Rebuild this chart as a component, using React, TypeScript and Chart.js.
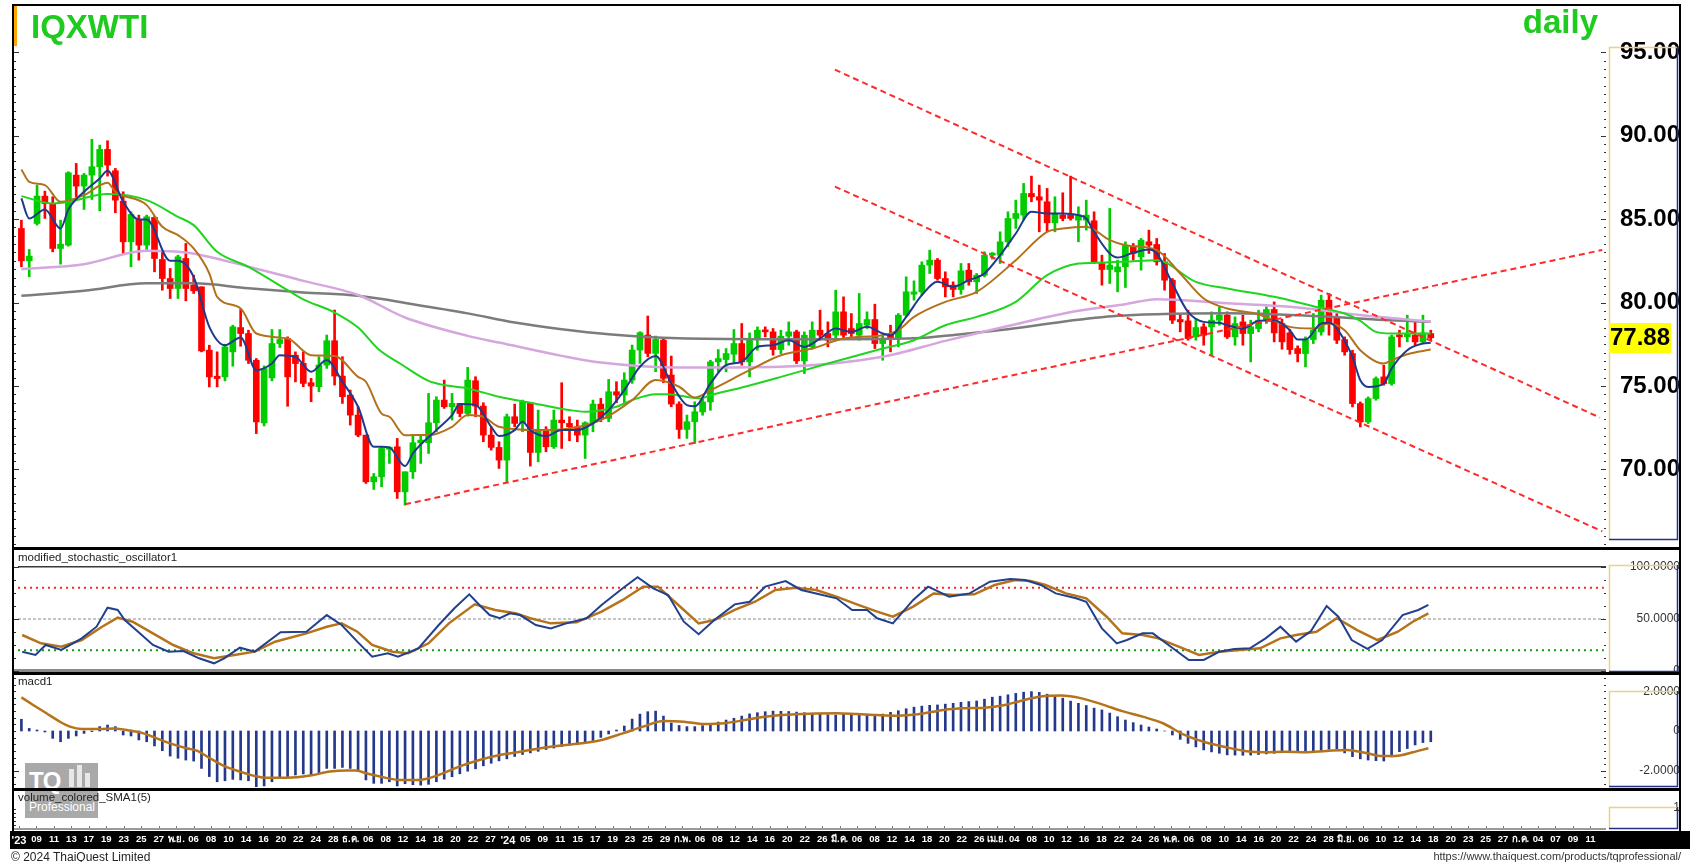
import React, { useEffect, useRef } from "react";
import { Chart, registerables } from "chart.js";

Chart.register(...registerables);

const FONT = '"Liberation Sans", Arial, Helvetica, sans-serif';

const PLOT_LEFT = 13;
const PLOT_RIGHT = 1606;
const AXIS_W = 74;
const RIGHT_PAD = 1690 - PLOT_RIGHT - AXIS_W;
const X_MIN = -1.073;
const X_MAX = 202.38;

// ---------- price candles (IQXWTI daily) ----------
const OPEN = [
  84.44, 82.5, 84.74, 86.38, 85.94, 83.24, 83.44, 87.64, 86.98, 87.64,
  88.14, 89.18, 87.9, 86.08, 83.64, 84.98, 83.44, 85.1, 82.58, 81.44,
  80.84, 82.64, 81.04, 80.94, 77.14, 75.58, 75.54, 77.04, 78.5, 78.14,
  76.54, 72.78, 75.48, 77.54, 77.84, 76.84, 76.35, 75.19, 74.95, 76.25,
  77.71, 75.59, 74.45, 73.25, 72.05, 69.25, 69.55, 71.2, 71.35, 68.65,
  69.85, 71.59, 71.59, 72.79, 74.15, 73.75, 73.95, 73.35, 75.31, 73.79,
  72.05, 71.31, 70.55, 73.15, 72.75, 73.99, 71.01, 72.35, 71.35, 72.95,
  72.75, 72.55, 72.05, 72.79, 73.91, 73.05, 74.65, 74.45, 75.35, 77.15,
  78.05, 76.95, 77.75, 75.65, 73.91, 72.39, 72.85, 73.44, 74.04, 76.44,
  76.58, 76.9, 77.54, 76.44, 77.84, 78.34, 78.24, 77.18, 77.98, 78.24,
  76.5, 77.34, 78.34, 78.14, 78.04, 79.44, 78.44, 78.04, 78.64, 78.98,
  77.54, 78.04, 77.84, 79.24, 80.5, 80.64, 82.24, 82.54, 81.44, 81.04,
  80.78, 81.94, 81.24, 81.64, 82.84, 82.84, 83.64, 85.04, 85.24, 86.54,
  86.34, 86.04, 84.78, 85.24, 85.24, 84.94, 84.94, 84.9, 82.34, 81.98,
  81.84, 82.14, 83.38, 82.74, 83.64, 83.48, 82.44, 81.34, 78.98, 78.9,
  77.94, 78.54, 78.54, 78.94, 79.24, 77.94, 78.84, 78.14, 78.44, 78.94,
  79.58, 78.74, 78.18, 77.24, 76.94, 77.78, 78.24, 80.14, 79.14, 77.78,
  76.94, 73.94, 72.84, 74.24, 75.54, 75.14, 78.04, 77.94, 78.04, 77.64,
  78.14,
];
const HIGH = [
  84.94, 83.18, 87.04, 86.68, 86.34, 84.94, 87.84, 88.34, 87.74, 89.78,
  89.44, 89.7, 88.04, 86.64, 85.44, 85.24, 85.24, 85.14, 83.04, 82.04,
  82.84, 83.54, 81.64, 80.94, 77.44, 77.04, 77.5, 78.64, 79.58, 78.34,
  76.64, 76.2, 78.38, 78.38, 77.94, 77.04, 77.05, 75.45, 76.75, 78.05,
  79.55, 76.75, 74.75, 73.75, 72.05, 69.75, 71.35, 71.35, 71.85, 69.85,
  72.05, 72.05, 74.55, 74.35, 75.35, 74.55, 73.95, 76.11, 75.55, 73.99,
  72.55, 71.65, 73.31, 73.91, 74.15, 73.99, 73.55, 72.55, 73.55, 75.19,
  73.15, 72.95, 72.85, 74.15, 74.25, 75.39, 75.25, 75.79, 77.45, 78.25,
  79.19, 77.99, 77.85, 76.79, 74.05, 73.25, 74.05, 74.24, 76.54, 77.18,
  77.24, 78.38, 78.74, 78.18, 78.54, 78.54, 78.44, 78.34, 78.84, 78.34,
  78.24, 78.84, 79.54, 78.84, 80.74, 80.34, 79.34, 80.54, 79.44, 79.9,
  78.04, 78.64, 79.34, 81.54, 81.3, 82.44, 83.14, 82.64, 81.84, 81.24,
  82.34, 82.34, 81.74, 83.04, 83.0, 84.24, 85.44, 86.14, 87.14, 87.58,
  87.04, 86.84, 86.34, 86.58, 87.58, 85.74, 86.14, 85.44, 82.84, 85.64,
  82.54, 83.64, 83.54, 83.84, 84.34, 83.84, 82.94, 81.44, 79.34, 79.54,
  79.04, 78.74, 79.44, 79.74, 79.44, 79.14, 79.24, 78.94, 79.54, 79.74,
  80.04, 79.0, 78.4, 77.4, 77.94, 79.34, 80.44, 80.54, 79.34, 77.94,
  77.14, 74.04, 74.34, 75.54, 76.24, 78.04, 78.34, 79.24, 78.84, 79.24,
  78.34,
];
const LOW = [
  82.14, 81.54, 84.64, 85.04, 83.04, 82.3, 83.38, 86.34, 85.58, 86.18,
  85.5, 87.58, 85.38, 82.94, 82.14, 82.54, 83.18, 81.84, 80.74, 80.24,
  80.24, 80.1, 80.54, 77.04, 74.94, 74.94, 75.3, 76.18, 77.38, 76.34,
  72.14, 72.6, 75.3, 77.3, 73.78, 75.24, 74.95, 74.05, 74.65, 76.05,
  75.05, 73.95, 72.65, 71.95, 69.15, 68.79, 68.95, 70.35, 68.25, 67.85,
  69.45, 70.35, 70.95, 72.25, 73.65, 72.95, 73.15, 73.19, 73.15, 71.65,
  71.15, 70.05, 69.25, 72.55, 72.25, 70.19, 70.45, 71.05, 71.25, 71.25,
  71.71, 71.65, 70.65, 72.25, 72.85, 72.85, 73.99, 73.95, 75.15, 76.35,
  76.75, 75.85, 75.19, 73.75, 71.85, 71.85, 71.55, 73.24, 73.54, 75.84,
  75.84, 76.34, 76.24, 75.54, 77.14, 77.94, 76.84, 76.94, 77.44, 76.34,
  75.74, 77.2, 77.74, 77.34, 77.84, 77.84, 77.84, 77.74, 78.44, 77.24,
  76.54, 77.04, 77.34, 79.14, 80.14, 80.44, 81.74, 81.34, 80.34, 80.34,
  80.5, 81.04, 80.54, 81.54, 82.6, 82.34, 83.34, 84.44, 84.94, 86.04,
  84.24, 84.24, 84.24, 84.9, 84.94, 83.64, 84.34, 82.34, 81.04, 81.14,
  80.64, 80.9, 82.54, 81.94, 82.94, 82.24, 80.74, 78.74, 78.24, 77.74,
  77.74, 77.44, 76.84, 78.64, 77.84, 77.44, 77.44, 76.44, 78.24, 78.74,
  77.64, 77.2, 76.9, 76.44, 76.14, 77.54, 78.04, 78.04, 77.54, 76.84,
  73.74, 72.54, 72.74, 74.14, 75.04, 75.04, 77.34, 77.64, 77.44, 77.58,
  77.74,
];
const CLOSE = [
  82.5, 82.78, 86.38, 85.94, 83.24, 83.5, 87.78, 86.98, 87.64, 88.14,
  89.18, 88.24, 86.14, 83.64, 85.28, 83.44, 85.14, 82.64, 81.44, 80.84,
  82.74, 80.84, 80.7, 77.1, 75.54, 75.44, 77.34, 78.54, 78.14, 76.54,
  72.84, 76.04, 77.54, 77.78, 75.54, 76.34, 75.15, 74.99, 76.25, 77.71,
  75.59, 74.35, 73.25, 72.05, 69.25, 69.55, 71.25, 71.3, 68.65, 69.85,
  71.59, 71.75, 72.79, 74.15, 73.75, 73.95, 73.35, 75.35, 73.79, 72.05,
  71.31, 70.55, 73.15, 72.75, 74.05, 71.01, 72.35, 71.35, 72.95, 72.79,
  72.55, 72.05, 72.79, 73.91, 73.05, 74.65, 74.45, 75.35, 77.15, 78.19,
  76.95, 77.79, 75.45, 73.91, 72.39, 72.85, 73.45, 74.04, 76.44, 76.64,
  76.94, 77.54, 76.44, 77.84, 78.34, 78.24, 77.18, 77.98, 78.24, 76.5,
  78.04, 78.34, 78.04, 77.74, 79.44, 78.04, 78.14, 78.74, 78.98, 77.54,
  77.84, 77.84, 79.24, 80.64, 80.64, 82.24, 82.54, 81.44, 80.94, 80.78,
  81.9, 81.24, 81.64, 82.84, 82.9, 83.64, 85.04, 85.34, 86.54, 86.34,
  86.14, 84.78, 85.34, 85.04, 85.04, 85.24, 85.24, 82.44, 81.98, 82.24,
  82.14, 83.44, 82.94, 83.74, 83.44, 82.44, 81.34, 78.94, 78.84, 77.84,
  78.5, 78.04, 78.94, 79.24, 77.94, 78.74, 78.14, 78.54, 78.94, 79.58,
  78.18, 77.64, 77.18, 76.94, 77.78, 78.34, 80.14, 78.74, 77.74, 77.04,
  73.94, 72.84, 74.24, 75.44, 75.14, 77.94, 77.94, 78.14, 77.64, 78.18,
  77.88,
];

// ---------- moving averages: [candle index, price] ----------
const MA_BLUE = [
  [0, 86.24], [1, 85.04], [3, 85.58], [5, 84.44], [6, 85.58], [8, 86.64], [10, 87.44], [11, 87.9],
  [13, 86.04], [15, 84.98], [16, 84.98], [19, 82.5], [20, 82.5], [22, 81.54], [24, 78.54], [26, 77.44],
  [28, 77.9], [30, 75.94], [32, 76.34], [33, 76.84], [35, 76.74], [37, 75.85], [39, 76.55], [41, 75.25],
  [43, 73.75], [45, 71.35], [46, 71.35], [47, 71.31], [49, 70.19], [50, 70.95], [53, 72.35], [55, 73.25],
  [56, 73.91], [58, 73.85], [60, 72.55], [61, 71.99], [63, 72.35], [64, 72.85], [65, 72.35], [67, 71.99],
  [69, 72.35], [71, 72.35], [73, 72.75], [75, 73.55], [77, 74.75], [79, 76.15], [81, 76.79], [83, 75.15],
  [85, 73.85], [86, 73.78], [88, 75.14], [90, 76.24], [92, 76.44], [94, 77.34], [96, 77.44], [98, 77.74],
  [100, 77.34], [102, 77.84], [104, 78.44], [106, 78.24], [108, 78.54], [110, 78.14], [111, 78.04],
  [113, 79.14], [115, 80.44], [117, 81.24], [119, 80.94], [121, 81.34], [123, 81.74], [125, 82.84],
  [127, 84.14], [129, 85.44], [131, 85.34], [133, 85.34], [135, 85.24], [136, 85.04], [137, 84.24],
  [139, 82.94], [140, 82.7], [142, 82.98], [144, 83.18], [145, 82.94], [147, 81.14], [149, 79.44],
  [151, 78.84], [153, 78.78], [154, 78.64], [156, 78.44], [158, 78.9], [160, 78.94], [162, 78.34],
  [163, 77.78], [164, 77.78], [166, 78.74], [167, 78.78], [168, 78.44], [170, 76.74], [171, 75.34],
  [172, 74.94], [174, 75.14], [175, 76.04], [177, 77.14], [179, 77.54], [180, 77.58],
];
const MA_BROWN = [
  [0, 87.98], [1, 87.24], [3, 87.04], [5, 86.04], [8, 86.44], [11, 87.18], [12, 86.64], [16, 85.84],
  [18, 84.54], [20, 84.04], [22, 83.24], [24, 81.74], [25, 80.34], [28, 79.64], [30, 78.14], [34, 77.84],
  [37, 76.84], [40, 76.8], [43, 75.54], [44, 75.25], [46, 73.34], [47, 73.15], [49, 72.04], [50, 72.05],
  [52, 72.05], [55, 72.55], [57, 73.25], [59, 73.15], [61, 72.55], [66, 72.35], [70, 72.45], [74, 72.95],
  [78, 74.15], [81, 75.35], [84, 74.95], [86, 74.3], [88, 74.74], [93, 75.94], [97, 76.84], [101, 77.24],
  [105, 77.84], [110, 78.04], [112, 78.34], [114, 79.14], [118, 80.04], [122, 80.64], [127, 82.54],
  [131, 84.24], [133, 84.44], [136, 84.54], [139, 83.74], [141, 83.44], [145, 83.14], [148, 81.74],
  [151, 80.24], [154, 79.64], [158, 79.3], [162, 78.54], [165, 78.44], [167, 78.74], [169, 78.34],
  [171, 77.14], [174, 76.34], [175, 76.54], [177, 76.9], [180, 77.18],
];
const MA_GREEN = [
  [0, 86.38], [4, 85.94], [6, 86.04], [11, 86.5], [16, 86.14], [20, 85.14], [22, 84.64], [25, 83.04],
  [29, 82.14], [34, 80.74], [36, 80.19], [40, 79.4], [43, 78.5], [45.6, 77.2], [48.5, 76.3], [52, 75.3],
  [54, 75.05], [57, 74.85], [61, 74.35], [65.5, 73.95], [70, 73.55], [72, 73.45], [76, 73.75], [78, 74.15],
  [81, 74.5], [82.5, 74.5], [86.7, 74.25], [88, 74.44], [92, 74.9], [97, 75.54], [103, 76.34], [110, 77.24],
  [114, 77.74], [118, 78.64], [122, 79.14], [127, 80.04], [131, 81.64], [135, 82.34], [137, 82.38],
  [141, 82.45], [145, 82.54], [150, 81.24], [154, 80.84], [160, 80.34], [165, 79.78], [169, 79.34],
  [171, 78.9], [173, 78.24], [175, 78.14], [180, 78.14],
];
const MA_PURPLE = [
  [0, 82.0], [8, 82.3], [16, 83.1], [21, 83.0], [29, 82.15], [36, 81.3], [43, 80.45], [49, 79.1], [57, 78.0],
  [61, 77.6], [69, 76.8], [74, 76.4], [84, 76.1], [97, 76.15], [110, 76.75], [118, 77.7], [127, 78.7],
  [135, 79.5], [141, 79.9], [145, 80.2], [154, 79.95], [162, 79.75], [171, 79.25], [180, 78.85],
];
const MA_GRAY = [
  [0, 80.4], [8, 80.7], [16, 81.15], [22, 81.15], [29, 80.85], [36, 80.6], [43, 80.4], [50, 79.9], [57, 79.35],
  [63, 78.8], [69, 78.4], [75, 78.1], [84, 77.85], [95, 77.8], [105, 77.8], [114, 77.85], [120, 78.1],
  [126, 78.4], [133, 78.85], [140, 79.2], [145, 79.3], [154, 79.35], [160, 79.3], [167, 79.15], [174, 78.95],
  [180, 78.85],
];

// ---------- hand-drawn trend lines: [candle index, price] ----------
const TREND_UPPER = [[103.9, 93.96], [201.6, 73.1]];
const TREND_LOWER = [[103.9, 86.95], [201.9, 66.28]];
const TREND_RISING = [[49, 67.9], [201.9, 83.15]];

// ---------- modified stochastic oscillator ----------
const STOCH_K = [
  [0.1, 18.6], [1.8, 15.4], [3.1, 25.0], [5.1, 20.2], [7.7, 31.4], [9.6, 42.6], [11.0, 60.9], [12.3, 58.7],
  [13.2, 49.0], [14.9, 37.8], [16.8, 25.0], [18.8, 18.6], [20.7, 19.2], [22.7, 12.2], [24.6, 7.4], [25.9, 12.2],
  [27.9, 22.4], [29.8, 18.6], [33.1, 37.2], [36.4, 37.8], [39.0, 53.8], [40.9, 44.2], [42.9, 28.2], [44.8, 13.8],
  [46.8, 17.0], [48.1, 13.8], [50.7, 21.8], [53.3, 44.2], [55.3, 60.3], [57.2, 73.7], [58.5, 63.5], [59.8, 53.8],
  [61.1, 50.7], [62.4, 55.5], [63.7, 53.8], [65.7, 44.2], [67.6, 41.0], [69.6, 45.8], [72.2, 50.7], [74.1, 63.5],
  [76.8, 79.5], [78.7, 90.1], [80.7, 79.5], [82.6, 73.1], [84.6, 47.4], [86.5, 35.3], [88.5, 49.0], [91.1, 64.1],
  [93.0, 66.6], [95.0, 81.1], [97.6, 86.5], [99.6, 77.9], [101.5, 74.6], [104.1, 69.9], [106.1, 58.7],
  [108.0, 58.7], [109.3, 50.7], [111.3, 45.8], [113.9, 68.3], [115.8, 81.1], [118.5, 71.5], [121.1, 74.6],
  [123.7, 85.9], [126.3, 88.5], [128.2, 87.5], [130.2, 82.7], [132.1, 74.6], [134.7, 69.9], [136.0, 66.6],
  [138.0, 41.0], [139.9, 26.6], [141.2, 29.8], [143.2, 36.2], [144.5, 36.2], [146.5, 25.0], [149.1, 10.6],
  [151.0, 10.6], [153.0, 18.6], [154.9, 21.2], [156.9, 21.8], [158.9, 31.4], [160.8, 42.6], [162.8, 28.2],
  [164.7, 38.4], [166.7, 62.5], [168.2, 52.2], [169.9, 29.8], [171.9, 21.2], [173.8, 29.8], [176.4, 53.8],
  [178.4, 58.7], [179.7, 63.5],
];
const STOCH_D = [
  [0.1, 34.6], [2.5, 26.6], [5.1, 23.4], [7.7, 29.8], [10.3, 42.6], [12.3, 51.3], [14.2, 47.4], [16.8, 36.2],
  [19.4, 25.0], [22.0, 17.0], [24.6, 12.2], [27.2, 15.4], [29.8, 18.6], [32.4, 28.2], [36.4, 36.2], [39.0, 42.6],
  [40.9, 45.8], [42.9, 37.8], [44.8, 25.0], [47.4, 18.6], [49.4, 17.0], [52.0, 26.6], [54.6, 45.8], [57.9, 64.1],
  [60.5, 58.7], [63.1, 55.5], [65.0, 50.7], [67.6, 45.8], [70.9, 46.8], [74.1, 57.1], [76.8, 68.3], [79.4, 81.1],
  [81.3, 81.1], [83.9, 63.5], [86.5, 45.8], [88.5, 49.0], [91.1, 58.7], [93.7, 66.6], [96.3, 77.9], [98.9, 80.1],
  [101.5, 77.9], [104.1, 71.5], [106.7, 64.1], [109.3, 57.1], [111.3, 52.2], [113.9, 61.9], [116.5, 74.6],
  [119.1, 73.1], [121.7, 73.7], [124.3, 82.7], [126.9, 87.5], [128.9, 86.5], [130.8, 82.7], [133.4, 74.6],
  [136.0, 69.9], [138.6, 52.2], [140.6, 36.2], [143.2, 34.6], [145.2, 31.4], [147.8, 23.4], [150.4, 15.4],
  [153.0, 18.6], [155.6, 20.2], [158.2, 21.8], [160.8, 31.4], [162.8, 34.6], [165.4, 37.8], [168.0, 50.7],
  [170.6, 39.4], [173.2, 29.8], [175.8, 37.8], [177.7, 47.4], [179.7, 55.5],
];
const STOCH_LEVELS = [80, 50, 20];

// ---------- MACD ----------
const MACD_HIST = [
  0.59, 0.13, 0.05, -0.05, -0.37, -0.54, -0.37, -0.25, -0.12, -0.03,
  0.22, 0.3, 0.22, -0.2, -0.25, -0.45, -0.54, -0.75, -0.99, -1.26,
  -1.37, -1.46, -1.51, -1.88, -2.29, -2.55, -2.5, -2.43, -2.46, -2.5,
  -2.8, -2.76, -2.55, -2.38, -2.29, -2.21, -2.16, -2.21, -2.09, -1.88,
  -1.88, -1.83, -1.88, -2.04, -2.46, -2.63, -2.63, -2.55, -2.76, -2.65,
  -2.7, -2.72, -2.68, -2.55, -2.42, -2.3, -2.15, -2.02, -1.9, -1.75,
  -1.62, -1.5, -1.4, -1.28, -1.18, -1.1, -1.02, -0.93, -0.86, -0.78,
  -0.7, -0.64, -0.57, -0.48, -0.32, -0.15, 0.05, 0.25, 0.6, 0.85,
  0.97, 1.0, 0.75, 0.4, 0.28, 0.22, 0.22, 0.27, 0.34, 0.45,
  0.55, 0.64, 0.75, 0.86, 0.92, 0.97, 1.0, 0.99, 0.98, 0.95,
  0.92, 0.89, 0.86, 0.82, 0.8, 0.84, 0.89, 0.86, 0.82, 0.8,
  0.85, 0.94, 1.02, 1.12, 1.2, 1.25, 1.29, 1.31, 1.35, 1.39,
  1.44, 1.48, 1.51, 1.6, 1.7, 1.75, 1.82, 1.89, 1.95, 1.98,
  1.94, 1.85, 1.75, 1.65, 1.5, 1.39, 1.28, 1.15, 1.06, 0.9,
  0.72, 0.55, 0.42, 0.3, 0.2, 0.1, 0.0, -0.2, -0.42, -0.62,
  -0.8, -0.95, -1.05, -1.12, -1.2, -1.21, -1.22, -1.21, -1.18, -1.15,
  -1.12, -1.08, -1.04, -1.02, -1.04, -1.03, -0.98, -0.92, -0.9, -1.1,
  -1.29, -1.4, -1.46, -1.49, -1.51, -1.3, -1.04, -0.88, -0.7, -0.58,
  -0.54,
];
const MACD_SIGNAL = [
  [0, 1.69], [1.5, 1.31], [3.2, 0.89], [4.9, 0.47], [6.2, 0.22], [7.7, 0.1], [10, 0.1], [11.9, 0.13],
  [13.9, 0.02], [15.6, -0.12], [17.3, -0.37], [19, -0.62], [21.1, -0.87], [22.4, -0.99], [24.1, -1.37],
  [25.8, -1.74], [27.9, -2.04], [30.1, -2.29], [31.3, -2.35], [33.9, -2.35], [36.9, -2.24], [39.4, -2.04],
  [41.6, -1.98], [42.8, -1.99], [44.1, -2.13], [45.8, -2.29], [48.4, -2.46], [50.7, -2.46], [53.3, -2.21],
  [55.9, -1.79], [58.5, -1.46], [61.1, -1.21], [63.7, -1.04], [67.6, -0.79], [71.5, -0.62], [74.1, -0.45],
  [76.8, -0.12], [79.4, 0.22], [82, 0.5], [84.6, 0.47], [87.2, 0.35], [89.8, 0.39], [92.4, 0.55], [95, 0.72],
  [98.9, 0.84], [104.1, 0.89], [106.7, 0.85], [109.3, 0.8], [111.9, 0.77], [114.5, 0.84], [117.8, 1.06],
  [120.4, 1.14], [123, 1.17], [125.6, 1.31], [127.6, 1.51], [130.2, 1.73], [132.8, 1.78], [135.4, 1.64],
  [138, 1.34], [140.6, 1.0], [143.2, 0.72], [145.8, 0.39], [148.4, -0.17], [151, -0.54], [153.6, -0.79],
  [156.2, -1.0], [158.8, -1.07], [161.4, -1.04], [164, -1.07], [166.7, -1.0], [169.3, -0.95], [171.9, -1.12],
  [173.8, -1.26], [175.8, -1.24], [177.7, -1.07], [179.7, -0.87],
];

// ---------- date axis labels ----------
const X_LABELS = [
  "'23", "09", "11", "13", "17", "19", "23", "25", "27",
  "พ.ย.", "06", "08", "10", "14", "16", "20", "22", "24", "28",
  "ธ.ค.", "06", "08", "12", "14", "18", "20", "22", "27",
  "'24", "05", "09", "11", "15", "17", "19", "23", "25", "29",
  "ก.พ.", "06", "08", "12", "14", "16", "20", "22", "26",
  "มี.ค.", "06", "08", "12", "14", "18", "20", "22", "26",
  "เม.ย.", "04", "08", "10", "12", "16", "18", "22", "24", "26",
  "พ.ค.", "06", "08", "10", "14", "16", "20", "22", "24", "28",
  "มิ.ย.", "06", "10", "12", "14", "18", "20", "23", "25", "27",
  "ก.ค.", "04", "07", "09", "11",
];

const SYMBOL = "IQXWTI";
const PERIOD = "daily";
const LAST = CLOSE[CLOSE.length - 1];

// ---------- helpers ----------
const IDX = CLOSE.map((_, i) => i);
const CANDLE_COLORS = IDX.map((i) => (CLOSE[i] >= OPEN[i] ? "#00cc00" : "#ff0000"));
const pts = (a: number[][]) => a.map(([x, y]) => ({ x, y }));

const hiddenX = () => ({ type: "linear", min: X_MIN, max: X_MAX, offset: false, display: false, grid: { offset: false } });

function rightY(min: number, max: number, step: number, fmt: (v: number) => string, font: any, color: string, padding: number) {
  return {
    position: "right",
    min,
    max,
    grid: { display: false, drawTicks: false },
    border: { display: false },
    ticks: { stepSize: step, includeBounds: false, autoSkip: false, font, color, padding, crossAlign: "far", callback: (v: any) => fmt(Number(v)) },
    afterFit: (s: any) => {
      s.width = AXIS_W;
      s.paddingTop = 0;
      s.paddingBottom = 0;
    },
  };
}

function lineDs(data: any[], color: string, width: number, order: number, extra: any = {}) {
  return { type: "line", data, borderColor: color, backgroundColor: color, borderWidth: width, pointRadius: 0, fill: false, order, ...extra };
}

function axisBox(ctx: any, top: number, bottom: number) {
  ctx.lineWidth = 1.5;
  ctx.strokeStyle = "#f0cf86";
  ctx.beginPath();
  ctx.moveTo(1609.5, bottom);
  ctx.lineTo(1609.5, top + 0.5);
  ctx.lineTo(1677, top + 0.5);
  ctx.stroke();
  ctx.strokeStyle = "#22308c";
  ctx.beginPath();
  ctx.moveTo(1677.5, top);
  ctx.lineTo(1677.5, bottom - 0.5);
  ctx.lineTo(1609, bottom - 0.5);
  ctx.stroke();
}

function sideTicks(ctx: any, scale: any, from: number, to: number, step: number, major: number, yMin: number, yMax: number) {
  ctx.fillStyle = "#333";
  for (let v = from; v <= to + 1e-9; v += step) {
    const y = Math.round(scale.getPixelForValue(v));
    if (y < yMin || y > yMax) continue;
    const isMajor = Math.abs(v / major - Math.round(v / major)) < 1e-6;
    ctx.fillRect(PLOT_LEFT, y, isMajor ? 6 : 3, 1);
    ctx.fillRect(PLOT_RIGHT - (isMajor ? 5 : 2), y, isMajor ? 5 : 2, 1);
  }
}

function panelLabel(ctx: any, text: string, y: number) {
  ctx.fillStyle = "#222";
  ctx.font = `11.5px ${FONT}`;
  ctx.textAlign = "left";
  ctx.textBaseline = "middle";
  ctx.fillText(text, 18, y);
}

// ---------- plugins ----------
const mainDecor = {
  id: "mainDecor",
  afterDraw(chart: any) {
    const { ctx } = chart;
    const ys = chart.scales.y;
    ctx.save();
    ctx.fillStyle = "#ffa500";
    ctx.fillRect(13, 5, 4, 41);
    ctx.font = `bold 33px ${FONT}`;
    ctx.fillStyle = "#1ecb1e";
    ctx.textBaseline = "alphabetic";
    ctx.textAlign = "left";
    ctx.fillText(SYMBOL, 31, 38);
    ctx.textAlign = "right";
    ctx.fillText(PERIOD, 1598, 33);
    axisBox(ctx, 47, 540);
    sideTicks(ctx, ys, 65.5, 97.5, 0.5, 5, 47, 545);
    const yl = ys.getPixelForValue(LAST);
    ctx.fillStyle = "#ffff00";
    ctx.fillRect(1609, Math.round(yl) - 15, 62, 30);
    ctx.fillStyle = "#000";
    ctx.font = `bold 24px ${FONT}`;
    ctx.textAlign = "left";
    ctx.textBaseline = "middle";
    ctx.fillText(LAST.toFixed(2), 1610, yl + 1);
    ctx.restore();
  },
};

const stochDecor = {
  id: "stochDecor",
  afterDraw(chart: any) {
    const { ctx } = chart;
    const ys = chart.scales.y;
    ctx.save();
    const y100 = Math.round(ys.getPixelForValue(100));
    const y0 = Math.round(ys.getPixelForValue(0));
    ctx.fillStyle = "#3a3a3a";
    ctx.fillRect(18, y100 - 1, PLOT_RIGHT - 18, 1.5);
    ctx.fillStyle = "#8a8a8a";
    ctx.fillRect(PLOT_LEFT, y0 - 2, PLOT_RIGHT - PLOT_LEFT, 3);
    panelLabel(ctx, "modified_stochastic_oscillator1", 9);
    axisBox(ctx, 16, 123);
    sideTicks(ctx, ys, 0, 100, 12.5, 50, 14, 124);
    ctx.restore();
  },
};

const macdDecor = {
  id: "macdDecor",
  afterDraw(chart: any) {
    const { ctx } = chart;
    const ys = chart.scales.y;
    ctx.save();
    panelLabel(ctx, "macd1", 9);
    axisBox(ctx, 18, 114);
    sideTicks(ctx, ys, -2.6666, 2.6666, 0.3333, 2, 2, 114);
    ctx.restore();
  },
};

const volDecor = {
  id: "volDecor",
  beforeDraw(chart: any) {
    const { ctx } = chart;
    const xs = chart.scales.x;
    ctx.save();
    ctx.fillStyle = "#000";
    ctx.fillRect(10, xs.top + 2, 1690 - 10, xs.bottom - xs.top - 2);
    ctx.fillStyle = "#9a9a9a";
    ctx.fillRect(PLOT_LEFT, xs.top - 1, PLOT_RIGHT - PLOT_LEFT, 2);
    ctx.fillStyle = "#777";
    for (let k = 0; k < X_LABELS.length; k++) {
      const x = Math.round(xs.getPixelForValue(k));
      ctx.fillRect(x, xs.top - 3, 1, 2);
    }
    ctx.restore();
  },
  afterDraw(chart: any) {
    const { ctx } = chart;
    ctx.save();
    panelLabel(ctx, "volume_colored_SMA1(5)", 9);
    axisBox(ctx, 18, 40);
    ctx.fillStyle = "#333";
    for (let y = 20; y <= 38; y += 4) ctx.fillRect(PLOT_LEFT, y, 3, 1);
    ctx.restore();
  },
};

// ---------- chart configs ----------
const baseOptions = (padding: any) => ({
  animation: false,
  responsive: false,
  maintainAspectRatio: false,
  devicePixelRatio: 1,
  layout: { padding },
  plugins: { legend: { display: false }, tooltip: { enabled: false }, title: { display: false } },
  events: [],
});

function mainConfig(): any {
  const datasets: any[] = [
    {
      type: "bar",
      data: IDX.map((i) => ({ x: i, y: [LOW[i], HIGH[i]] })),
      backgroundColor: CANDLE_COLORS,
      barThickness: 2,
      grouped: false,
      borderWidth: 0,
      order: 20,
    },
    {
      type: "bar",
      data: IDX.map((i) => ({ x: i, y: [OPEN[i], CLOSE[i]] })),
      backgroundColor: CANDLE_COLORS,
      barThickness: 6,
      minBarLength: 2,
      grouped: false,
      borderWidth: 0,
      order: 19,
    },
    lineDs(pts(MA_GRAY), "#7c7c7c", 2.5, 8, { cubicInterpolationMode: "monotone" }),
    lineDs(pts(MA_PURPLE), "#d6a6de", 2.5, 7, { cubicInterpolationMode: "monotone" }),
    lineDs(pts(MA_GREEN), "#1fd51f", 2, 6, { cubicInterpolationMode: "monotone" }),
    lineDs(pts(MA_BROWN), "#b3711c", 2, 5, { cubicInterpolationMode: "monotone" }),
    lineDs(pts(MA_BLUE), "#1f3a8c", 2, 4, { cubicInterpolationMode: "monotone" }),
    lineDs(pts(TREND_UPPER), "#ff2a2a", 2, 1, { borderDash: [6, 4] }),
    lineDs(pts(TREND_LOWER), "#ff2a2a", 2, 1, { borderDash: [6, 4] }),
    lineDs(pts(TREND_RISING), "#ff2a2a", 2, 1, { borderDash: [6, 4] }),
  ];
  return {
    type: "bar",
    data: { datasets },
    options: {
      ...baseOptions({ left: PLOT_LEFT, right: RIGHT_PAD, top: 5, bottom: 2 }),
      scales: {
        x: hiddenX(),
        y: rightY(65.34, 97.84, 5, (v) => v.toFixed(2), { family: FONT, size: 24, weight: "bold" }, "#000", 11),
      },
    },
    plugins: [mainDecor],
  };
}

function stochConfig(): any {
  const levelColors = ["#ff2020", "#8a8a8a", "#119911"];
  const levelDash = [[2, 4], [3, 2], [2, 4]];
  const datasets: any[] = STOCH_LEVELS.map((lv, k) =>
    lineDs([{ x: -0.43, y: lv }, { x: 202.1, y: lv }], levelColors[k], k === 1 ? 1 : 2, 10, { borderDash: levelDash[k] })
  );
  datasets.push(lineDs(pts(STOCH_D), "#b5731c", 2.5, 3));
  datasets.push(lineDs(pts(STOCH_K), "#22408e", 2, 2));
  return {
    type: "line",
    data: { datasets },
    options: {
      ...baseOptions({ left: PLOT_LEFT, right: RIGHT_PAD, top: 18, bottom: 2 }),
      scales: {
        x: hiddenX(),
        y: rightY(0, 100, 50, (v) => (v === 0 ? "0" : v.toFixed(4)), { family: FONT, size: 12 }, "#333", 20),
      },
    },
    plugins: [stochDecor],
  };
}

function macdConfig(): any {
  const datasets: any[] = [
    {
      type: "bar",
      data: IDX.map((i) => ({ x: i, y: MACD_HIST[i] })),
      backgroundColor: "#24398b",
      barThickness: 2,
      grouped: false,
      borderWidth: 0,
      order: 10,
    },
    lineDs(pts(MACD_SIGNAL), "#b5731c", 2.5, 2, { cubicInterpolationMode: "monotone" }),
  ];
  return {
    type: "bar",
    data: { datasets },
    options: {
      ...baseOptions({ left: PLOT_LEFT, right: RIGHT_PAD, top: 3, bottom: 2 }),
      scales: {
        x: hiddenX(),
        y: rightY(-2.814, 2.764, 2, (v) => (v === 0 ? "0" : v.toFixed(4)), { family: FONT, size: 12 }, "#333", 26),
      },
    },
    plugins: [macdDecor],
  };
}

function volConfig(): any {
  const span = 1593 / 17.46;
  const xMin = -(19 - PLOT_LEFT) / 17.46;
  return {
    type: "line",
    data: { datasets: [] },
    options: {
      ...baseOptions({ left: PLOT_LEFT, right: RIGHT_PAD, top: 3, bottom: 13 }),
      scales: {
        x: {
          type: "linear",
          position: "bottom",
          min: xMin,
          max: xMin + span,
          offset: false,
          grid: { display: false, drawTicks: false },
          border: { display: false },
          ticks: {
            stepSize: 1,
            includeBounds: false,
            autoSkip: false,
            maxRotation: 0,
            minRotation: 0,
            padding: 5,
            color: "#ffffff",
            font: (c: any) => {
              const lbl = X_LABELS[Math.round(c?.tick?.value ?? 0)] || "";
              return lbl.startsWith("'") ? { family: FONT, size: 11, weight: "bold" } : { family: FONT, size: 9.5, weight: "bold" };
            },
            callback: (v: any) => {
              const n = Number(v);
              return Number.isInteger(n) && n >= 0 && n < X_LABELS.length ? X_LABELS[n] : "";
            },
          },
          afterFit: (s: any) => {
            s.height = 20;
            s.paddingLeft = 0;
            s.paddingRight = 0;
          },
        },
        y: rightY(0, 1.76, 1, (v) => (v === 1 ? "1" : ""), { family: FONT, size: 12 }, "#333", 62),
      },
    },
    plugins: [volDecor],
  };
}

// ---------- component ----------
const canvasStyle = (top: number, height: number): React.CSSProperties => ({
  position: "absolute",
  left: 0,
  top,
  width: 1690,
  height,
  display: "block",
});

const bar = (left: number, top: number, width: number, height: number, color = "#000"): React.CSSProperties => ({
  position: "absolute",
  left,
  top,
  width,
  height,
  background: color,
});

export default function App() {
  const mainRef = useRef<HTMLCanvasElement>(null);
  const stochRef = useRef<HTMLCanvasElement>(null);
  const macdRef = useRef<HTMLCanvasElement>(null);
  const volRef = useRef<HTMLCanvasElement>(null);

  useEffect(() => {
    const charts = [
      new Chart(mainRef.current as HTMLCanvasElement, mainConfig()),
      new Chart(stochRef.current as HTMLCanvasElement, stochConfig()),
      new Chart(macdRef.current as HTMLCanvasElement, macdConfig()),
      new Chart(volRef.current as HTMLCanvasElement, volConfig()),
    ];
    return () => charts.forEach((c) => c.destroy());
  }, []);

  return (
    <div style={{ position: "absolute", left: 0, top: 0, width: 1690, height: 862, background: "#fff", overflow: "hidden", fontFamily: FONT }}>
      {/* watermark (behind the panels, like the original) */}
      <div style={{ position: "absolute", left: 25, top: 763, width: 73, height: 55, background: "rgba(150,150,150,0.82)", color: "#fff", overflow: "hidden" }}>
        <div style={{ position: "absolute", left: 4, top: 4, font: `bold 24px ${FONT}`, letterSpacing: -1 }}>TQ</div>
        <div style={{ position: "absolute", left: 44, top: 6, width: 5, height: 18, background: "#e8e8e8" }} />
        <div style={{ position: "absolute", left: 52, top: 2, width: 5, height: 22, background: "#e8e8e8" }} />
        <div style={{ position: "absolute", left: 60, top: 10, width: 5, height: 14, background: "#e8e8e8" }} />
        <div style={{ position: "absolute", left: 4, top: 37, font: `12px ${FONT}` }}>Professional</div>
      </div>

      <canvas ref={mainRef} width={1690} height={549} style={canvasStyle(0, 549)} />
      <canvas ref={stochRef} width={1690} height={124} style={canvasStyle(549, 124)} />
      <canvas ref={macdRef} width={1690} height={116} style={canvasStyle(673, 116)} />
      <canvas ref={volRef} width={1690} height={73} style={canvasStyle(789, 73)} />

      {/* frame and panel separators */}
      <div style={bar(12, 4, 1669, 1.5)} />
      <div style={bar(12, 4, 1.5, 827)} />
      <div style={bar(1679, 4, 1.5, 827)} />
      <div style={bar(12, 547, 1669, 2.5)} />
      <div style={bar(12, 672, 1669, 2.5)} />
      <div style={bar(12, 788, 1669, 2.5)} />

      {/* footer */}
      <div style={{ position: "absolute", left: 11, top: 850, font: `12px ${FONT}`, color: "#222", whiteSpace: "nowrap" }}>© 2024 ThaiQuest Limited</div>
      <div style={{ position: "absolute", right: 9, top: 850, font: `11px ${FONT}`, color: "#333", whiteSpace: "nowrap" }}>
        https://www.thaiquest.com/products/tqprofessional/
      </div>
    </div>
  );
}
